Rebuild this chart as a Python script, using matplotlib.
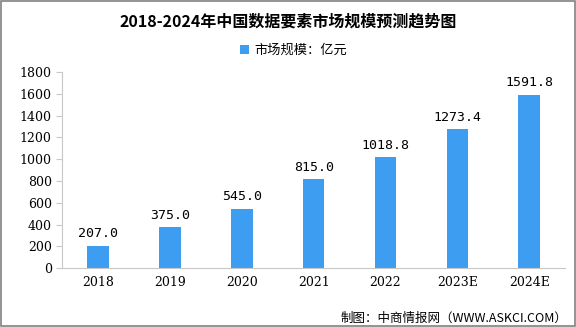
import matplotlib.pyplot as plt
from matplotlib.patches import Rectangle

plt.rcParams['font.family'] = ['Noto Sans CJK SC', 'DejaVu Sans']

years = ['2018', '2019', '2020', '2021', '2022', '2023E', '2024E']
market_size = [207.0, 375.0, 545.0, 815.0, 1018.8, 1273.4, 1591.8]

bar_color = '#3d9df0'

fig = plt.figure(figsize=(5.76, 3.27), dpi=100)
ax = fig.add_axes([0.108, 0.18, 0.873, 0.60])

x = range(len(years))
ax.bar(x, market_size, width=0.3, color=bar_color, label='市场规模：亿元', zorder=2)
for i, v in zip(x, market_size):
    ax.text(i, v + 50, f'{v:.1f}', ha='center', va='bottom', fontsize=9.5,
            family=['DejaVu Sans Mono', 'DejaVu Sans'])

ax.set_xlim(-0.5, len(years) - 0.5)
ax.set_ylim(0, 1800)
ax.set_yticks(range(0, 1801, 200))
ax.set_xticks(list(x))
ax.set_xticklabels(years, family=['DejaVu Serif'])
for lbl in ax.get_yticklabels():
    lbl.set_family(['DejaVu Serif'])
ax.tick_params(axis='both', labelsize=9, length=4, color='#c8c8c8')
ax.tick_params(axis='x', length=0, pad=6)
for s in ['top', 'right']:
    ax.spines[s].set_visible(False)
ax.spines['left'].set_color('#c8c8c8')
ax.spines['bottom'].set_color('#c8c8c8')

fig.text(0.5, 0.935, '2018-2024年中国数据要素市场规模预测趋势图', ha='center', va='center',
         fontsize=11.5, fontweight='bold')
ax.legend(loc='center', bbox_to_anchor=(0.46, 1.11), frameon=False, fontsize=9.5,
          handlelength=0.7, handleheight=0.7, handletextpad=0.4)
fig.text(0.985, 0.028, '制图：中商情报网（WWW.ASKCI.COM）', ha='right', va='center', fontsize=9)

fig.patches.append(Rectangle((0.001, 0.002), 0.997, 0.995, transform=fig.transFigure,
                             fill=False, edgecolor='#808080', linewidth=1.2))

fig.savefig('out.png', dpi=100)
